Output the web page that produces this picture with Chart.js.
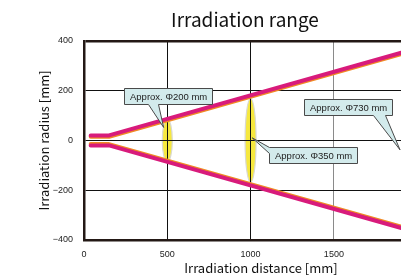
<!DOCTYPE html>
<html><head><meta charset="utf-8">
<script src="https://cdn.jsdelivr.net/npm/chart.js@4.4.0/dist/chart.umd.min.js"></script>
<style>
html,body{margin:0;padding:0;background:#fff;}
#wrap{width:401px;height:276px;overflow:hidden;position:relative;background:#fff;}
canvas{display:block;}
</style></head><body>
<div id="wrap"><canvas id="c" width="490" height="276"></canvas></div>
<script>
// ---- data ----
const distance = [40, 150, 2000];
const upperRadius = [20, 20, 370];
const lowerRadius = [-20, -20, -370];
const xTicks = [0, 500, 1000, 1500, 2000];
const yTicks = [-400, -200, 0, 200, 400];
const spotDistance = [500, 1000];
const spotRadius = [86, 168];
const spotHalfWidth = [30, 33];
const calloutLabels = ['Approx. Φ200 mm', 'Approx. Φ350 mm', 'Approx. Φ730 mm'];
const calloutTipX = [478, 1010, 1897];
const calloutTipY = [52, 10, -38];
const calloutBoxX = [242, 1112, 1323];
const calloutBoxY = [212, -28, 168];

// ---- styles ----
const MAGENTA = '#d81b7b';
const ORANGE = '#f08a24';
const FRAME = '#231815';
const pointerStyle = [
  {side: 'bottom', b1: 24, b2: 34},
  {side: 'left', b1: 0, b2: 6},
  {side: 'bottom', b1: 69, b2: 81}
];

const spotsPlugin = {
  id: 'spots',
  beforeDraw(chart) {
    const {ctx, scales: {x, y}} = chart;
    ctx.save();
    for (let i = 0; i < spotDistance.length; i++) {
      const cx = x.getPixelForValue(spotDistance[i]);
      const cy = y.getPixelForValue(0);
      const rx = Math.abs(x.getPixelForValue(spotDistance[i] + spotHalfWidth[i]) - cx);
      const ry = Math.abs(y.getPixelForValue(spotRadius[i]) - cy);
      ctx.beginPath();
      ctx.ellipse(cx, cy, rx, ry, 0, 0, Math.PI * 2);
      ctx.fillStyle = '#f6e83e';
      ctx.fill();
      ctx.strokeStyle = '#d9d9d0';
      ctx.lineWidth = 1.2;
      ctx.stroke();
    }
    ctx.restore();
  }
};

const lineShadowPlugin = {
  id: 'lineShadow',
  beforeDatasetDraw(chart, args) {
    const ctx = chart.ctx;
    ctx.save();
    ctx.shadowColor = ORANGE;
    ctx.shadowBlur = 0;
    ctx.shadowOffsetY = args.index === 0 ? 1.3 : -1.3;
  },
  afterDatasetDraw(chart) {
    chart.ctx.restore();
  }
};

const calloutPlugin = {
  id: 'callouts',
  afterDraw(chart) {
    const {ctx, scales: {x, y}} = chart;
    ctx.save();
    ctx.font = '9.5px "Liberation Sans", Arial, sans-serif';
    for (let i = 0; i < calloutLabels.length; i++) {
      const tx = x.getPixelForValue(calloutTipX[i]);
      const ty = y.getPixelForValue(calloutTipY[i]);
      const bx = Math.round(x.getPixelForValue(calloutBoxX[i])) + 0.5;
      const by = Math.round(y.getPixelForValue(calloutBoxY[i])) + 0.5;
      const w = Math.round(ctx.measureText(calloutLabels[i]).width + 11);
      const h = 16;
      const p = pointerStyle[i];
      ctx.beginPath();
      if (p.side === 'bottom') {
        ctx.moveTo(bx, by);
        ctx.lineTo(bx + w, by);
        ctx.lineTo(bx + w, by + h);
        ctx.lineTo(bx + p.b2, by + h);
        ctx.lineTo(tx, ty);
        ctx.lineTo(bx + p.b1, by + h);
        ctx.lineTo(bx, by + h);
      } else {
        ctx.moveTo(bx, by);
        ctx.lineTo(bx + w, by);
        ctx.lineTo(bx + w, by + h);
        ctx.lineTo(bx, by + h);
        ctx.lineTo(bx, by + p.b2);
        ctx.lineTo(tx, ty);
        ctx.lineTo(bx + p.b1, by);
      }
      ctx.closePath();
      ctx.fillStyle = '#d3ebec';
      ctx.fill();
      ctx.strokeStyle = '#4a4a4a';
      ctx.lineWidth = 1;
      ctx.stroke();
      ctx.fillStyle = '#222';
      ctx.textBaseline = 'middle';
      ctx.textAlign = 'left';
      ctx.fillText(calloutLabels[i], bx + 5.5, by + h / 2 + 0.5);
    }
    ctx.restore();
  }
};

const titleFont = '"Noto Sans CJK JP", "Noto Sans", sans-serif';
const tickFont = {family: '"Liberation Sans", Arial, sans-serif', size: 9};

new Chart(document.getElementById('c'), {
  type: 'line',
  data: {
    datasets: [
      {data: distance.map((d, i) => ({x: d, y: upperRadius[i]})), borderColor: MAGENTA, borderWidth: 4, pointRadius: 0, borderCapStyle: 'round', borderJoinStyle: 'round', tension: 0, fill: false},
      {data: distance.map((d, i) => ({x: d, y: lowerRadius[i]})), borderColor: MAGENTA, borderWidth: 4, pointRadius: 0, borderCapStyle: 'round', borderJoinStyle: 'round', tension: 0, fill: false}
    ]
  },
  options: {
    responsive: false,
    animation: false,
    devicePixelRatio: 1,
    layout: {padding: {left: 52, right: 52, top: 0, bottom: 0}},
    plugins: {
      legend: {display: false},
      tooltip: {enabled: false},
      title: {display: true, text: 'Irradiation range', color: '#111', font: {family: titleFont, size: 19, weight: 'normal'}, padding: {top: 8, bottom: 10}}
    },
    scales: {
      x: {
        type: 'linear', min: 0, max: 2125,
        afterBuildTicks: s => { s.ticks = xTicks.map(v => ({value: v})); },
        afterFit: s => { s.height = 36; },
        ticks: {font: tickFont, color: '#222', padding: 9, maxRotation: 0, callback: v => String(v)},
        grid: {drawTicks: false, color: c => (c.tick && c.tick.value === 1500) ? '#8a8a8a' : '#111', lineWidth: 1},
        border: {display: true, color: FRAME, width: 2.5},
        title: {display: true, text: 'Irradiation distance [mm]', color: '#111', font: {family: titleFont, size: 13, weight: 'normal'}, padding: {top: 0, bottom: 0}}
      },
      y: {
        type: 'linear', min: -400, max: 400,
        afterBuildTicks: s => { s.ticks = yTicks.map(v => ({value: v})); },
        afterFit: s => { s.width = 32; },
        ticks: {font: tickFont, color: '#222', padding: 11, callback: v => String(v).replace('-', '\u2212')},
        grid: {drawTicks: false, color: c => (c.tick && c.tick.value === 400) ? FRAME : '#111', lineWidth: c => (c.tick && c.tick.value === 400) ? 2.5 : 1},
        border: {display: true, color: FRAME, width: 2.5},
        title: {display: true, text: 'Irradiation radius [mm]', color: '#111', font: {family: titleFont, size: 13, weight: 'normal'}, padding: {top: -16, bottom: 0}}
      }
    }
  },
  plugins: [spotsPlugin, lineShadowPlugin, calloutPlugin]
});
</script>
</body></html>
